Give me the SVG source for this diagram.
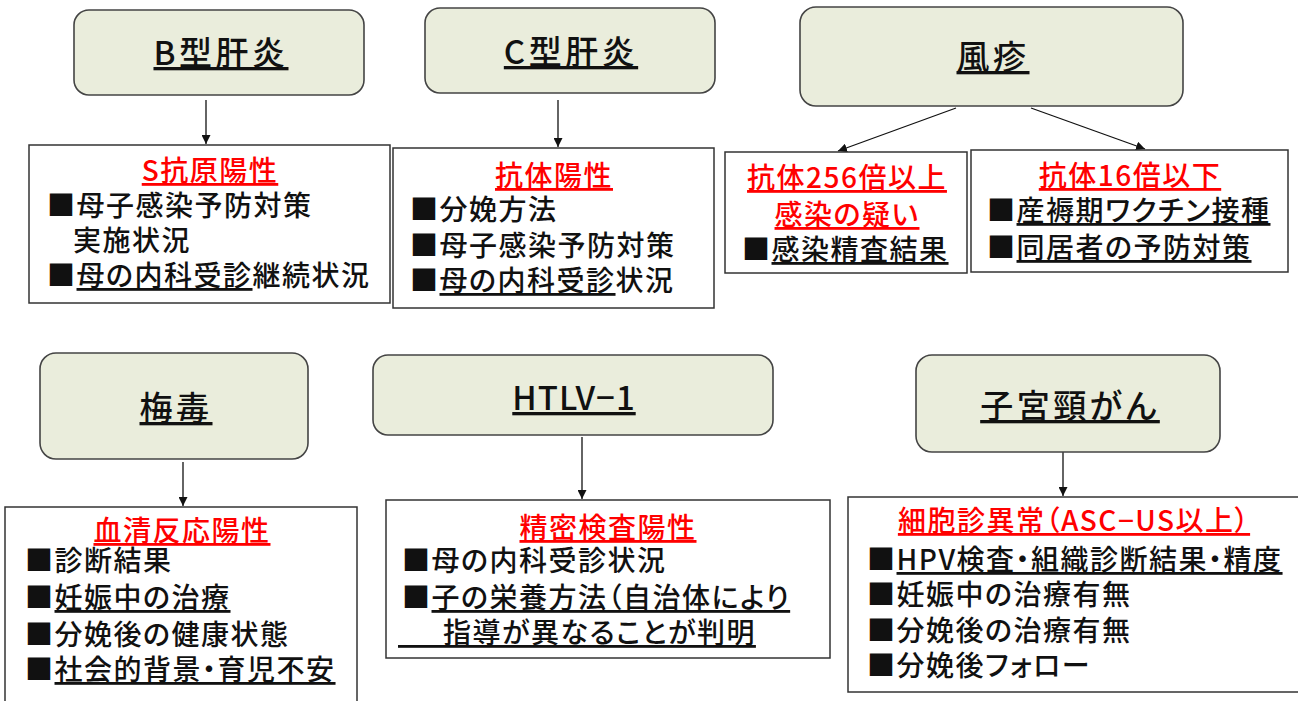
<svg xmlns="http://www.w3.org/2000/svg" width="1298" height="701" viewBox="0 0 1298 701">
<defs>
<marker id="ah" viewBox="0 0 10 10" refX="10" refY="5" markerWidth="9" markerHeight="9" markerUnits="userSpaceOnUse" orient="auto"><path d="M0,0 L10,5 L0,10 z" fill="#111"/></marker>
<style>
text{font-family:"Noto Sans CJK JP","Noto Sans",sans-serif;font-feature-settings:"palt";font-weight:500;}
.hd{fill:#eaeddc;stroke:#444;stroke-width:1.6;}
.bx{fill:#fff;stroke:#333;stroke-width:1.5;}
.ht{font-size:33px;letter-spacing:3.5px;fill:#111;text-anchor:middle;text-decoration:underline;}
.rt{font-size:28px;letter-spacing:1.5px;fill:#ff0000;text-anchor:middle;text-decoration:underline;}
.t{font-size:28px;letter-spacing:1.5px;fill:#111;}
.u{text-decoration:underline;}
.cn{stroke:#111;stroke-width:1.3;fill:none;marker-end:url(#ah);}
</style>
</defs>
<rect width="1298" height="701" fill="#fff"/>

<g id="connectors">
<line class="cn" x1="206" y1="100" x2="206" y2="144"/>
<line class="cn" x1="558" y1="100" x2="558" y2="147"/>
<line class="cn" x1="956" y1="108" x2="838" y2="151"/>
<line class="cn" x1="1031" y1="108" x2="1145" y2="149"/>
<line class="cn" x1="183" y1="462" x2="183" y2="506"/>
<line class="cn" x1="582" y1="437" x2="582" y2="499"/>
<line class="cn" x1="1063" y1="452" x2="1063" y2="496"/>
</g>

<g id="hepB">
<rect class="hd" x="74" y="10" width="290" height="85" rx="15"/>
<text class="ht" x="221" y="65">B型肝炎</text>
</g>
<g id="hepB-detail">
<rect class="bx" x="29" y="145" width="361" height="158"/>
<text class="rt" x="210" y="181">S抗原陽性</text>
<text class="t" x="47" y="216">■母子感染予防対策</text>
<text class="t" x="73" y="251">実施状況</text>
<text class="t" x="47" y="286">■<tspan class="u">母の内科受診</tspan>継続状況</text>
</g>

<g id="hepC">
<rect class="hd" x="425" y="8" width="290" height="85" rx="15"/>
<text class="ht" x="571" y="64">C型肝炎</text>
</g>
<g id="hepC-detail">
<rect class="bx" x="393" y="148" width="321" height="160"/>
<text class="rt" x="554" y="186">抗体陽性</text>
<text class="t" x="410" y="220">■分娩方法</text>
<text class="t" x="410" y="256">■母子感染予防対策</text>
<text class="t" x="410" y="291">■<tspan class="u">母の内科受診</tspan>状況</text>
</g>

<g id="rubella">
<rect class="hd" x="800" y="7" width="383" height="99" rx="16"/>
<text class="ht" x="993" y="69">風疹</text>
</g>
<g id="rubella-high">
<rect class="bx" x="725" y="152" width="242" height="121"/>
<text class="rt" x="847" y="188">抗体256倍以上</text>
<text class="rt" x="847" y="225">感染の疑い</text>
<text class="t" x="742" y="260">■<tspan class="u">感染精査結果</tspan></text>
</g>
<g id="rubella-low">
<rect class="bx" x="971" y="150" width="317" height="122"/>
<text class="rt" x="1130" y="186">抗体16倍以下</text>
<text class="t" x="987" y="221">■<tspan class="u">産褥期ワクチン接種</tspan></text>
<text class="t" x="987" y="258">■<tspan class="u">同居者の予防対策</tspan></text>
</g>

<g id="syphilis">
<rect class="hd" x="40" y="353" width="268" height="106" rx="16"/>
<text class="ht" x="176" y="420">梅毒</text>
</g>
<g id="syphilis-detail">
<rect class="bx" x="5" y="507" width="352" height="210"/>
<text class="rt" x="182" y="541">血清反応陽性</text>
<text class="t" x="25" y="571">■診断結果</text>
<text class="t" x="25" y="608">■<tspan class="u">妊娠中の治療</tspan></text>
<text class="t" x="25" y="645">■分娩後の健康状態</text>
<text class="t" x="25" y="680">■<tspan class="u">社会的背景・育児不安</tspan></text>
</g>

<g id="htlv">
<rect class="hd" x="373" y="355" width="400" height="80" rx="15"/>
<text class="ht" x="574" y="410" style="letter-spacing:1px">HTLV−1</text>
</g>
<g id="htlv-detail">
<rect class="bx" x="386" y="500" width="444" height="158"/>
<text class="rt" x="608" y="538">精密検査陽性</text>
<text class="t" x="402" y="571">■母の内科受診状況</text>
<text class="t" x="402" y="608">■<tspan class="u">子の栄養方法（自治体により</tspan></text>
<text class="t u" x="398" y="643" xml:space="preserve" style="white-space:pre">　  指導が異なることが判明</text>
</g>

<g id="cervical">
<rect class="hd" x="916" y="355" width="304" height="97" rx="16"/>
<text class="ht" x="1070" y="418">子宮頸がん</text>
</g>
<g id="cervical-detail">
<rect class="bx" x="848" y="497" width="460" height="195"/>
<text class="rt" x="1074" y="531">細胞診異常（ASC−US以上）</text>
<text class="t" x="867" y="570">■<tspan class="u">HPV検査・組織診断結果・精度</tspan></text>
<text class="t" x="867" y="605">■妊娠中の治療有無</text>
<text class="t" x="867" y="641">■分娩後の治療有無</text>
<text class="t" x="867" y="676">■分娩後フォロー</text>
</g>
</svg>
